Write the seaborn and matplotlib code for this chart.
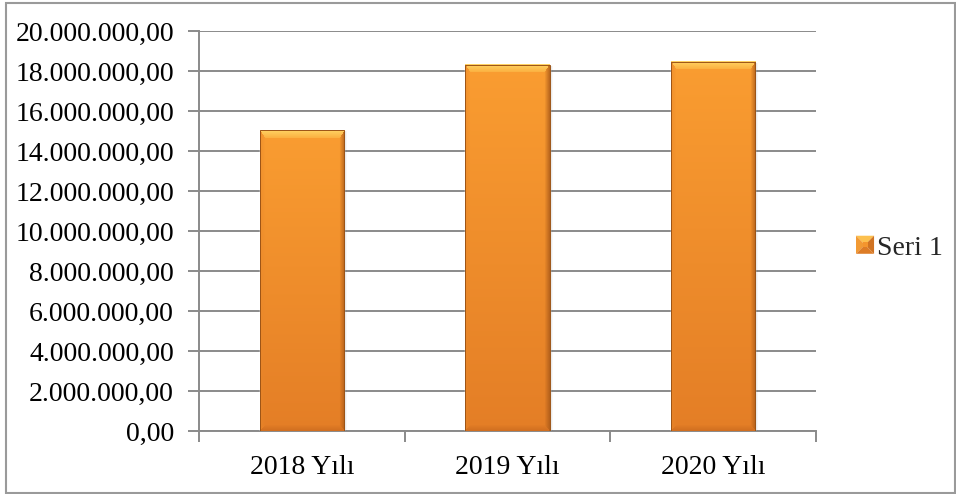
import numpy as np
import pandas as pd
import matplotlib
matplotlib.use("Agg")
import matplotlib.pyplot as plt
import seaborn as sns
from matplotlib.ticker import FuncFormatter, MultipleLocator, FixedLocator
from matplotlib.patches import Patch, Rectangle, Polygon
from matplotlib.legend_handler import HandlerBase

# Data
categories = ["2018 Yılı", "2019 Yılı", "2020 Yılı"]
values = [15035000, 18315000, 18465000]
series_name = "Seri 1"

df = pd.DataFrame({"Yıl": categories, "Değer": values})

sns.set_theme(style="white")
plt.rcParams["font.family"] = ["Liberation Serif", "DejaVu Serif"]

W, H = 956, 494
fig = plt.figure(figsize=(W / 100, H / 100), dpi=100)
ax = fig.add_axes([199 / W, 1 - 431 / H, (816 - 199) / W, 400 / H])

grid_col = "#8a8a8a"
FS = 20
sns.barplot(data=df, x="Yıl", y="Değer", color="#F39430", width=0.41,
            ax=ax, saturation=1, zorder=3)

ax.set_xlim(-0.5, 2.5)
ax.set_ylim(0, 20000000)
ax.yaxis.set_major_locator(MultipleLocator(2000000))


def tr_fmt(v, pos):
    s = f"{v:,.2f}"
    return s.replace(",", "X").replace(".", ",").replace("X", ".")


ax.yaxis.set_major_formatter(FuncFormatter(tr_fmt))
ax.set_xlabel("")
ax.set_ylabel("")
ax.grid(axis="y", color=grid_col, linewidth=1.4, zorder=0)
ax.set_axisbelow(True)
for s in ["top", "right"]:
    ax.spines[s].set_visible(False)
for s in ["left", "bottom"]:
    ax.spines[s].set_color(grid_col)
    ax.spines[s].set_linewidth(1.4)

ax.tick_params(axis="y", which="major", length=8, width=1.4, color=grid_col,
               pad=10, labelsize=FS, labelcolor="black", left=True)
ax.xaxis.set_minor_locator(FixedLocator([-0.5, 0.5, 1.5, 2.5]))
ax.tick_params(axis="x", which="major", length=0, pad=17, labelsize=FS,
               labelcolor="black")
ax.tick_params(axis="x", which="minor", length=8, width=1.4, color=grid_col,
               bottom=True)


def rgb(h):
    h = h.lstrip("#")
    return np.array([int(h[i:i + 2], 16) for i in (0, 2, 4)]) / 255


# Beveled gradient fill for each bar
fig.canvas.draw()
top_c = rgb("#FA9D31")
bot_c = rgb("#E47E26")
light_hi = rgb("#FFD262")
light_lo = rgb("#FBAE3E")
bottom_c = rgb("#C9691E")
right_c = rgb("#A85818")
left_c = rgb("#E8872A")
for p in list(ax.patches):
    bb = p.get_window_extent()
    pw, ph = int(round(bb.width)), int(round(bb.height))
    if pw < 2 or ph < 2:
        continue
    ii, jj = np.mgrid[0:ph, 0:pw]
    t = ii / max(ph - 1, 1)
    img = (1 - t)[..., None] * top_c + t[..., None] * bot_c
    dt = ii.astype(float)
    db = (ph - 1 - ii).astype(float)
    dl = jj.astype(float)
    dr = (pw - 1 - jj).astype(float)
    bt, bs_l, bs_r, bbm = 8.0, 5.0, 5.0, 6.0
    stack = np.stack([dt / bt, dl / bs_l, dr / bs_r, db / bbm])
    which = np.argmin(stack, axis=0)
    mval = np.min(stack, axis=0)
    inb = mval < 1
    # top bevel: bright band fading downwards
    m = inb & (which == 0)
    f = mval[m][..., None]
    img[m] = (1 - f) * light_hi + f * light_lo
    # left bevel: slightly darker
    m = inb & (which == 1)
    f = (1 - mval[m])[..., None]
    img[m] = img[m] * (1 - 0.5 * f) + left_c * 0.5 * f
    # right bevel: darker
    m = inb & (which == 2)
    f = (1 - mval[m])[..., None]
    img[m] = img[m] * (1 - 0.75 * f) + right_c * 0.75 * f
    # bottom bevel: darker
    m = inb & (which == 3)
    f = (1 - mval[m])[..., None]
    img[m] = img[m] * (1 - 0.7 * f) + bottom_c * 0.7 * f
    x0, y0 = p.get_x(), p.get_y()
    ax.imshow(img, extent=[x0, x0 + p.get_width(), y0, y0 + p.get_height()],
              aspect="auto", origin="upper", zorder=3.5, interpolation="bilinear")
    ax.add_patch(Rectangle((x0, y0), p.get_width(), p.get_height(),
                           fill=False, edgecolor="#9c5416", linewidth=0.7,
                           zorder=3.6))
    # soft shadow to the right
    for k, a in enumerate([0.12, 0.07, 0.03]):
        dx = (k + 1) * 1.0 * 3 / 617
        ax.add_patch(Rectangle((x0 + p.get_width(), y0), dx, p.get_height() - 40000,
                               facecolor="black", alpha=a, linewidth=0, zorder=2.9))
ax.set_xlim(-0.5, 2.5)
ax.set_ylim(0, 20000000)


class PyramidHandler(HandlerBase):
    def create_artists(self, legend, orig_handle, xdescent, ydescent,
                       width, height, fontsize, trans):
        s = min(width, height)
        x0 = -xdescent + (width - s) / 2
        y0 = -ydescent + (height - s) / 2
        cx, cy = x0 + s / 2, y0 + s / 2
        a, b, c, d = (x0, y0), (x0 + s, y0), (x0 + s, y0 + s), (x0, y0 + s)
        cen = (cx, cy)
        tris = [
            ([d, c, cen], "#FCC04E"),
            ([a, d, cen], "#F29A34"),
            ([b, c, cen], "#D07322"),
            ([a, b, cen], "#DD7C26"),
        ]
        arts = []
        for pts, col in tris:
            pg = Polygon(pts, closed=True, facecolor=col, edgecolor="none",
                         transform=trans)
            arts.append(pg)
        inner = s * 0.28
        arts.append(Rectangle((cx - inner / 2, cy - inner / 2), inner, inner,
                              facecolor="#F4952E", edgecolor="none",
                              transform=trans))
        return arts


handle = Patch(facecolor="#F0912E")
fig.legend([handle], [series_name], loc="center left",
           bbox_to_anchor=(856 / W, 1 - 248 / H), frameon=False,
           fontsize=FS, handlelength=0.65, handleheight=0.65,
           handletextpad=0.1, borderaxespad=0, borderpad=0,
           handler_map={Patch: PyramidHandler()})

# chart area border
fig.add_artist(Rectangle((5.5 / W, 1.5 / H), (W - 7) / W, (H - 5) / H,
                         transform=fig.transFigure, fill=False,
                         edgecolor="#9a9a9a", linewidth=1.5))

fig.savefig("out.png", dpi=100, facecolor="white")
